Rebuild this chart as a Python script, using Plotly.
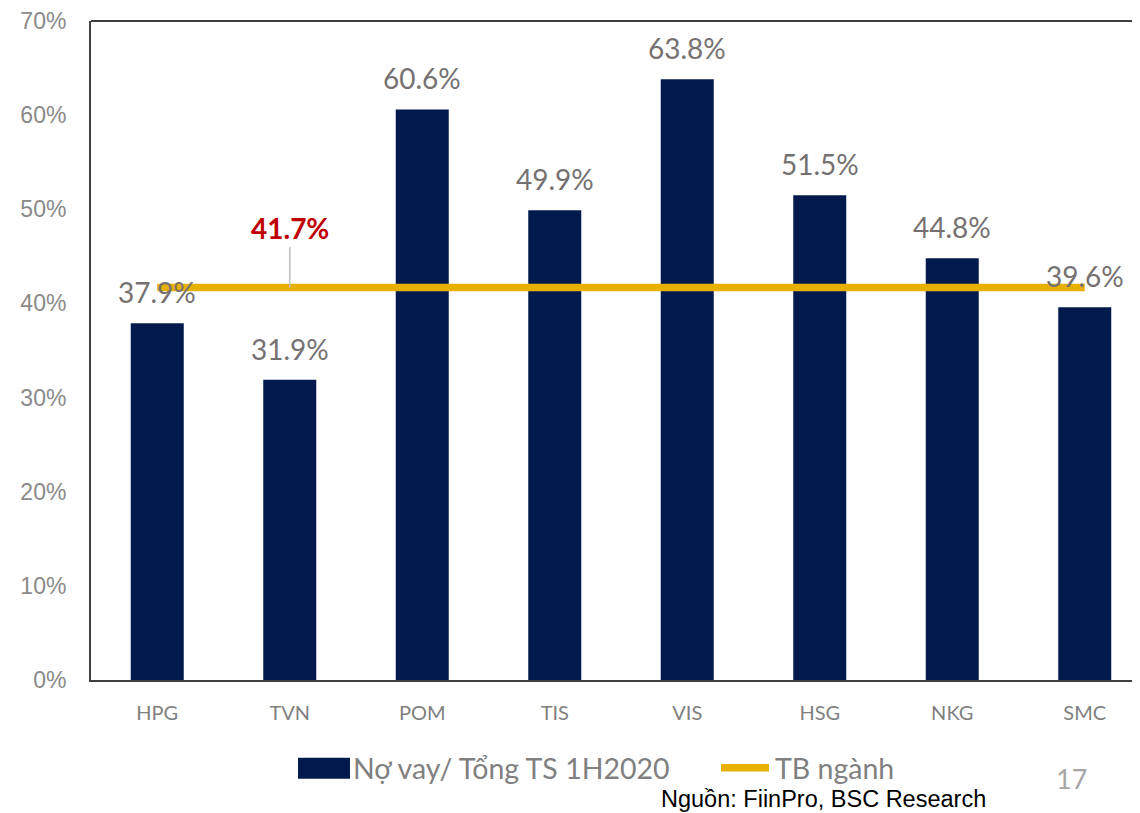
import plotly.graph_objects as go

# ---- data ----
categories = ["HPG", "TVN", "POM", "TIS", "VIS", "HSG", "NKG", "SMC"]
debt_ratio = [37.9, 31.9, 60.6, 49.9, 63.8, 51.5, 44.8, 39.6]
industry_avg = 41.7
series_bar_name = "Nợ vay/ Tổng TS 1H2020"
series_line_name = "TB ngành"
y_ticks = [0, 10, 20, 30, 40, 50, 60, 70]
source_text = "Nguồn: FiinPro, BSC Research"
page_number = "17"

NAVY = "#001A4E"
GOLD = "#E8B000"
RED = "#C00000"
LABEL_GRAY = "#767171"

OFF = 8  # page body margin
W, H = 1140 - OFF, 813 - OFF
ML, MR, MT = 91 - OFF, 0, 19 - OFF
MB = H - (680 - OFF)
plot_w = W - ML - MR
plot_h = H - MT - MB
cat_px = 132.5
x_max = -0.5 + plot_w / cat_px


def px_x(px):
    return (px - OFF - ML) / plot_w


def px_y(py):
    return (680 - py) / plot_h


fig = go.Figure()

fig.add_trace(go.Bar(
    x=categories, y=debt_ratio, name=series_bar_name,
    marker=dict(color=NAVY, line=dict(width=0)),
    width=0.4, showlegend=False, hoverinfo="x+y",
))

fig.add_trace(go.Scatter(
    x=categories, y=[industry_avg] * len(categories), name=series_line_name,
    mode="lines", line=dict(color=GOLD, width=7.5), showlegend=False,
))

annotations = []
for c, v in zip(categories, debt_ratio):
    annotations.append(dict(
        x=c, y=v, xref="x", yref="y", text=f"{v:.1f}%", showarrow=False,
        yanchor="bottom", yshift=12,
        font=dict(family="Lato", size=28, color=LABEL_GRAY),
    ))

# average label with leader line
annotations.append(dict(
    x=categories[1], y=industry_avg, xref="x", yref="y",
    text=f"<b>{industry_avg:.1f}%</b>", showarrow=True,
    arrowhead=0, arrowwidth=1.5, arrowcolor="#BFBFBF",
    ax=0, ay=-59, font=dict(family="Lato", size=28, color=RED),
))

# legend (custom)
annotations.append(dict(
    x=px_x(351), y=px_y(768), xref="paper", yref="paper", text=series_bar_name,
    showarrow=False, xanchor="left", yanchor="middle",
    font=dict(family="Lato", size=28.5, color="#808080"),
))
annotations.append(dict(
    x=px_x(773), y=px_y(768), xref="paper", yref="paper", text=series_line_name,
    showarrow=False, xanchor="left", yanchor="middle",
    font=dict(family="Lato", size=28.5, color="#808080"),
))
annotations.append(dict(
    x=px_x(1071), y=px_y(779), xref="paper", yref="paper", text=page_number,
    showarrow=False, xanchor="center", yanchor="middle",
    font=dict(family="Lato", size=27, color="#A6A6A6"),
))
annotations.append(dict(
    x=px_x(823), y=px_y(799), xref="paper", yref="paper", text=source_text,
    showarrow=False, xanchor="center", yanchor="middle",
    font=dict(family="Liberation Sans", size=23.5, color="#000000"),
))

shapes = [
    # top border of plot area
    dict(type="line", xref="paper", yref="paper", x0=0, x1=1, y0=1, y1=1,
         line=dict(color="#404040", width=2)),
    # legend swatches
    dict(type="rect", xref="paper", yref="paper",
         x0=px_x(298), x1=px_x(350), y0=px_y(779), y1=px_y(758),
         fillcolor=NAVY, line=dict(width=0)),
    dict(type="line", xref="paper", yref="paper",
         x0=px_x(721), x1=px_x(769), y0=px_y(768), y1=px_y(768),
         line=dict(color=GOLD, width=7.5)),
]

fig.update_layout(
    width=W, height=H,
    margin=dict(l=ML, r=MR, t=MT, b=MB, pad=0),
    paper_bgcolor="white", plot_bgcolor="white",
    showlegend=False,
    annotations=annotations, shapes=shapes,
    xaxis=dict(
        range=[-0.5, x_max], showgrid=False, zeroline=False,
        showline=True, linecolor="#404040", linewidth=2,
        ticks="", tickfont=dict(family="Lato", size=20, color="#7F7F7F"),
        ticklabelstandoff=14,
    ),
    yaxis=dict(
        range=[0, 70], tickvals=y_ticks, ticktext=[f"{t}%" for t in y_ticks],
        showgrid=False, zeroline=False,
        showline=True, linecolor="#404040", linewidth=2,
        ticks="", tickfont=dict(family="Liberation Sans", size=23, color="#8A8A8A"),
        ticklabelstandoff=18, ticklabeloverflow="allow",
    ),
)

fig.write_html("out.html")
